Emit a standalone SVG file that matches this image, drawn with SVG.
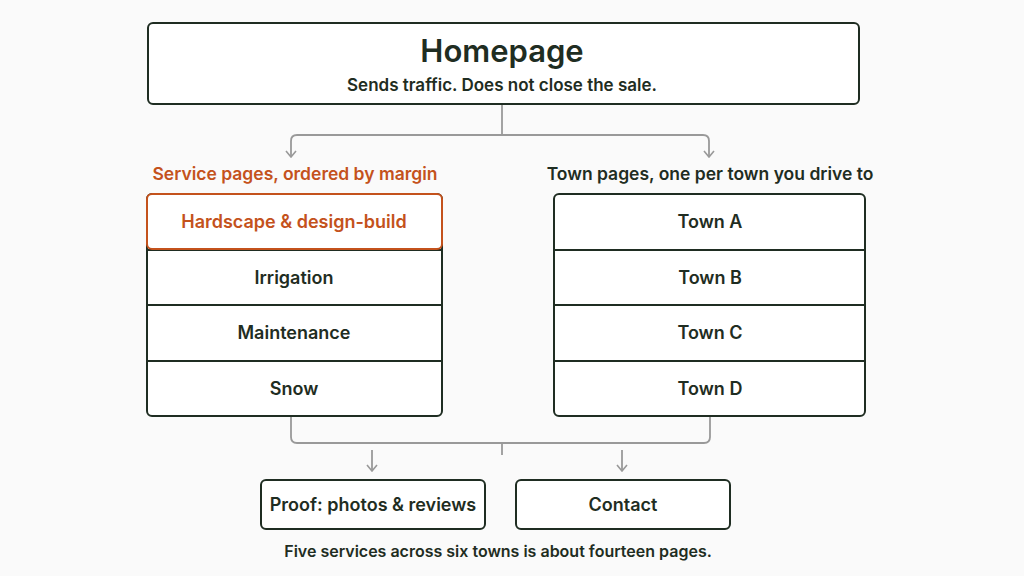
<svg xmlns="http://www.w3.org/2000/svg" width="1024" height="576" viewBox="0 0 1024 576">
<style>
text{font-family:Inter,"Liberation Sans",sans-serif;font-weight:600;fill:#1f2d22;text-anchor:middle}
.box{fill:#fff;stroke:#1f2d22;stroke-width:2}
.hl{fill:#fff;stroke:#c4521c;stroke-width:2}
.c{fill:none;stroke:#999;stroke-width:1.8}
.lab{font-size:17.5px}
</style>
<defs><marker id="ar" viewBox="0 0 12 12" refX="6" refY="11" markerWidth="12" markerHeight="12" markerUnits="userSpaceOnUse" orient="0"><path d="M1 5 L6 11 L11 5" fill="none" stroke="#999" stroke-width="1.6"/></marker></defs>
<rect width="1024" height="576" fill="#fafafa"/>
<g id="connectors">
<path class="c" d="M502 105 V135"/>
<path class="c" d="M291 157 V141 Q291 135 297 135 H703 Q709 135 709 141 V157" marker-start="url(#ar)" marker-end="url(#ar)"/>
<path class="c" d="M291 417 V437 Q291 443 297 443 H704 Q710 443 710 437 V417"/>
<path class="c" d="M502 443 V455"/>
<path class="c" d="M372 450 V471" marker-end="url(#ar)"/>
<path class="c" d="M622 450 V471" marker-end="url(#ar)"/>
</g>
<g id="homepage"><rect class="box" x="148" y="23" width="711" height="81" rx="5"/>
<text x="502" y="62" font-size="31" font-weight="700">Homepage</text>
<text x="502" y="91" font-size="17">Sends traffic. Does not close the sale.</text></g>
<text x="295" y="180" class="lab" style="fill:#c4521c">Service pages, ordered by margin</text>
<text x="710" y="180" class="lab">Town pages, one per town you drive to</text>
<g id="services">
<rect class="box" x="147" y="194" width="295" height="222" rx="5"/>
<path d="M147 250 H442 M147 305 H442 M147 361 H442" stroke="#1f2d22" stroke-width="2"/>
<rect class="hl" x="147" y="194" width="295" height="55" rx="5"/>
<text x="294" y="228" font-size="18" style="fill:#c4521c">Hardscape &amp; design-build</text>
<text x="294" y="284" font-size="18">Irrigation</text>
<text x="294" y="339" font-size="18">Maintenance</text>
<text x="294" y="395" font-size="18">Snow</text></g>
<g id="towns">
<rect class="box" x="554" y="194" width="311" height="222" rx="5"/>
<path d="M554 250 H865 M554 305 H865 M554 361 H865" stroke="#1f2d22" stroke-width="2"/>
<text x="710" y="228" font-size="18">Town A</text>
<text x="710" y="284" font-size="18">Town B</text>
<text x="710" y="339" font-size="18">Town C</text>
<text x="710" y="395" font-size="18">Town D</text></g>
<g id="proof"><rect class="box" x="261" y="480" width="224" height="49" rx="5"/><text x="373" y="511" font-size="18">Proof: photos &amp; reviews</text></g>
<g id="contact"><rect class="box" x="516" y="480" width="214" height="49" rx="5"/><text x="623" y="511" font-size="18">Contact</text></g>
<text x="498" y="557" font-size="16">Five services across six towns is about fourteen pages.</text>
</svg>
